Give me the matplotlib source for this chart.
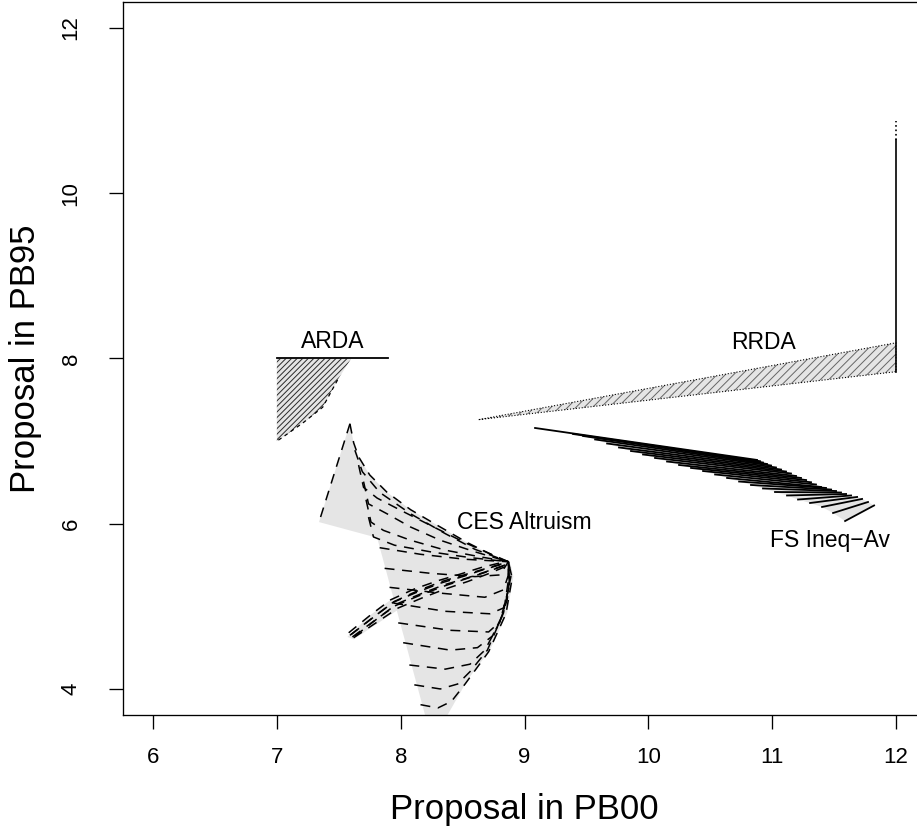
import matplotlib
matplotlib.use("Agg")
import matplotlib.pyplot as plt

plt.rcParams['font.family'] = ['Liberation Sans', 'DejaVu Sans']
plt.rcParams['hatch.linewidth'] = 0.7

GRAY = '#e5e5e5'

# ---- ARDA ----
arda_region_x = [7.0, 7.6, 7.49, 7.37, 7.21, 7.04, 7.0]
arda_region_y = [8.0, 8.0, 7.74, 7.41, 7.22, 7.04, 7.0]
arda_top_x = [7.0, 7.9]
arda_top_y = [8.0, 8.0]

# ---- RRDA ----
rrda_region_x = [8.63, 12.0, 12.0]
rrda_region_y = [7.26, 8.19, 7.84]
rrda_vert_y = [7.84, 10.64]
rrda_vert_tip_y = [10.64, 10.88]

# ---- FS inequality aversion: one segment per parameter value ----
fs_x0 = [9.085, 9.392, 9.473, 9.570, 9.667, 9.763, 9.860, 9.957, 10.054, 10.151, 10.248, 10.345, 10.442,
         10.539, 10.636, 10.733, 10.829, 10.926, 11.023, 11.120, 11.209, 11.306, 11.403, 11.492, 11.589]
fs_y0 = [7.159, 7.086, 7.062, 7.020, 6.971, 6.923, 6.880, 6.838, 6.796, 6.753, 6.711, 6.675, 6.638,
         6.596, 6.554, 6.511, 6.469, 6.427, 6.384, 6.342, 6.293, 6.251, 6.203, 6.130, 6.033]
fs_x1 = [10.878, 10.902, 10.926, 10.959, 10.991, 11.031, 11.072, 11.112, 11.152, 11.193, 11.233, 11.274, 11.314,
         11.354, 11.395, 11.435, 11.476, 11.516, 11.556, 11.597, 11.637, 11.686, 11.726, 11.774, 11.823]
fs_y1 = [6.772, 6.757, 6.741, 6.723, 6.705, 6.681, 6.656, 6.632, 6.608, 6.578, 6.554, 6.529, 6.502,
         6.475, 6.445, 6.433, 6.414, 6.396, 6.378, 6.360, 6.342, 6.324, 6.300, 6.263, 6.221]

# ---- CES altruism ----
ces_region_x = [7.59, 7.34, 7.81, 8.23, 8.32, 8.38, 8.54, 8.72, 8.86, 8.91, 8.89, 8.87,
                8.78, 8.54, 8.32, 8.08, 7.89, 7.75, 7.66, 7.62]
ces_region_y = [7.21, 6.02, 5.83, 3.50, 3.50, 3.69, 4.11, 4.47, 4.92, 5.36, 5.50, 5.54,
                5.59, 5.77, 5.96, 6.17, 6.38, 6.59, 6.81, 6.98]
ces_curves_x = [
    [7.59, 7.34],
    [7.59, 7.62, 7.66, 7.75, 7.89, 8.08, 8.32, 8.54, 8.78, 8.87],
    [7.63, 7.69, 7.83, 8.08, 8.36, 8.60, 8.87],
    [7.66, 7.70, 7.81, 7.99, 8.24, 8.52, 8.87],
    [7.70, 7.74, 7.89, 8.08, 8.32, 8.60, 8.87],
    [7.72, 7.76, 7.86, 8.08, 8.36, 8.64, 8.87],
    [7.74, 7.78, 7.95, 8.24, 8.56, 8.87],
    [7.83, 8.16, 8.52, 8.87],
    [7.87, 8.24, 8.60, 8.80, 8.87],
    [7.91, 8.32, 8.68, 8.83, 8.87, 8.87],
    [7.94, 8.36, 8.72, 8.83, 8.88, 8.87],
    [7.98, 8.40, 8.71, 8.80, 8.86, 8.88, 8.87],
    [8.02, 8.40, 8.62, 8.74, 8.83, 8.87, 8.87],
    [8.07, 8.36, 8.56, 8.68, 8.80, 8.87, 8.87],
    [8.11, 8.32, 8.46, 8.56, 8.70, 8.83, 8.89, 8.87],
    [8.16, 8.30, 8.41, 8.52, 8.71, 8.85, 8.90, 8.87],
]
ces_curves_y = [
    [7.21, 6.02],
    [7.21, 6.98, 6.81, 6.59, 6.38, 6.17, 5.96, 5.77, 5.59, 5.54],
    [6.89, 6.63, 6.38, 6.12, 5.88, 5.69, 5.54],
    [6.71, 6.44, 6.31, 6.17, 5.98, 5.77, 5.54],
    [6.51, 6.24, 6.12, 5.96, 5.80, 5.66, 5.54],
    [6.29, 6.02, 5.92, 5.80, 5.68, 5.60, 5.54],
    [6.08, 5.84, 5.74, 5.66, 5.59, 5.54],
    [5.71, 5.63, 5.57, 5.54],
    [5.46, 5.40, 5.36, 5.38, 5.54],
    [5.23, 5.16, 5.11, 5.20, 5.38, 5.54],
    [5.04, 4.94, 4.91, 4.98, 5.26, 5.54],
    [4.80, 4.71, 4.69, 4.81, 5.08, 5.36, 5.54],
    [4.56, 4.47, 4.50, 4.64, 4.92, 5.32, 5.54],
    [4.29, 4.24, 4.30, 4.47, 4.81, 5.20, 5.54],
    [4.05, 4.00, 4.06, 4.21, 4.47, 4.92, 5.36, 5.54],
    [3.81, 3.77, 3.85, 4.06, 4.45, 4.91, 5.34, 5.54],
]
tail_region_x = [7.57, 7.76, 7.92, 8.11, 8.30, 8.48, 8.65, 8.84, 8.86, 8.70, 8.54, 8.36, 8.17, 7.98, 7.82, 7.62]
tail_region_y = [4.63, 4.90, 5.08, 5.21, 5.31, 5.39, 5.47, 5.54, 5.49, 5.39, 5.30, 5.21, 5.10, 4.96, 4.80, 4.60]
tail_curves_x = [
    [7.59, 7.78, 7.94, 8.13, 8.32, 8.50, 8.66, 8.84],
    [7.61, 7.80, 7.96, 8.15, 8.34, 8.52, 8.68, 8.85],
    [7.62, 7.82, 7.98, 8.17, 8.36, 8.54, 8.70, 8.86],
    [7.58, 7.76, 7.92, 8.11, 8.30, 8.48, 8.65, 8.84],
    [7.60, 7.79, 7.95, 8.14, 8.33, 8.51, 8.67, 8.85],
    [7.63, 7.81, 7.97, 8.16, 8.35, 8.53, 8.69, 8.86],
]
tail_curves_y = [
    [4.65, 4.87, 5.05, 5.17, 5.28, 5.36, 5.44, 5.52],
    [4.63, 4.84, 5.01, 5.13, 5.24, 5.33, 5.41, 5.50],
    [4.62, 4.82, 4.98, 5.10, 5.21, 5.30, 5.39, 5.49],
    [4.68, 4.90, 5.08, 5.21, 5.31, 5.39, 5.47, 5.54],
    [4.66, 4.88, 5.06, 5.19, 5.30, 5.38, 5.45, 5.53],
    [4.64, 4.85, 5.03, 5.15, 5.26, 5.34, 5.42, 5.51],
]

labels = ['ARDA', 'RRDA', 'CES Altruism', 'FS Ineq\u2212Av']
label_x = [7.45, 10.93, 9.0, 11.47]
label_y = [8.20, 8.19, 6.01, 5.80]

x_ticks = [6, 7, 8, 9, 10, 11, 12]
y_ticks = [4, 6, 8, 10, 12]

fig = plt.figure(figsize=(9.17, 8.34), dpi=100)
ax = fig.add_axes([0.1345, 0.1422, 0.875, 0.8559])
ax.set_xlim(5.76, 12.24)
ax.set_ylim(3.68, 12.32)

dash = (6.5, 5)

# ARDA
ax.fill(arda_region_x, arda_region_y, facecolor=GRAY, edgecolor='#2a2a2a', hatch='//////', linewidth=0, zorder=1)
ax.plot(arda_region_x[2:], arda_region_y[2:], color='black', lw=0.9, dashes=(3, 3), zorder=2)
ax.plot(arda_top_x, arda_top_y, color='black', lw=1.3, zorder=3)

# RRDA
ax.fill(rrda_region_x, rrda_region_y, facecolor=GRAY, edgecolor='#666666', hatch='////', linewidth=0, zorder=1)
ax.plot(rrda_region_x + rrda_region_x[:1], rrda_region_y + rrda_region_y[:1], color='black', lw=0.8,
        linestyle=':', zorder=2)
ax.plot([12.0, 12.0], rrda_vert_y, color='black', lw=1.2, zorder=3)
ax.plot([12.0, 12.0], rrda_vert_tip_y, color='black', lw=1.2, linestyle=':', zorder=3)

# FS
fs_poly_x = fs_x0 + fs_x1[::-1]
fs_poly_y = fs_y0 + fs_y1[::-1]
ax.fill(fs_poly_x, fs_poly_y, facecolor=GRAY, edgecolor='none', zorder=1)
for a, b, c, d in zip(fs_x0, fs_y0, fs_x1, fs_y1):
    ax.plot([a, c], [b, d], color='black', lw=1.3, zorder=2)

# CES
ax.fill(ces_region_x, ces_region_y, facecolor=GRAY, edgecolor='none', zorder=1)
ax.fill(tail_region_x, tail_region_y, facecolor=GRAY, edgecolor='none', zorder=1)
for xs, ys in zip(ces_curves_x, ces_curves_y):
    ax.plot(xs, ys, color='black', lw=1.1, dashes=dash, zorder=2)
for xs, ys in zip(tail_curves_x, tail_curves_y):
    ax.plot(xs, ys, color='black', lw=1.1, dashes=dash, zorder=2)

for t, x, y in zip(labels, label_x, label_y):
    ax.text(x, y, t, fontsize=16.5, ha='center', va='center', zorder=4)

ax.set_xticks(x_ticks)
ax.set_yticks(y_ticks)
ax.tick_params(direction='out', length=10, width=0.95, labelsize=16)
ax.tick_params(axis='x', pad=13)
ax.tick_params(axis='y', pad=20)
for lbl in ax.get_yticklabels():
    lbl.set_rotation(90)
    lbl.set_va('center')
for s in ax.spines.values():
    s.set_linewidth(0.95)

ax.set_xlabel('Proposal in PB00', fontsize=25)
ax.set_ylabel('Proposal in PB95', fontsize=25)
ax.xaxis.set_label_coords(0.5, -0.1325)
ax.xaxis.label.set_va('center')
ax.yaxis.set_label_coords(-0.1225, 0.5)
ax.yaxis.label.set_va('center')

fig.savefig('out.png', dpi=100)
